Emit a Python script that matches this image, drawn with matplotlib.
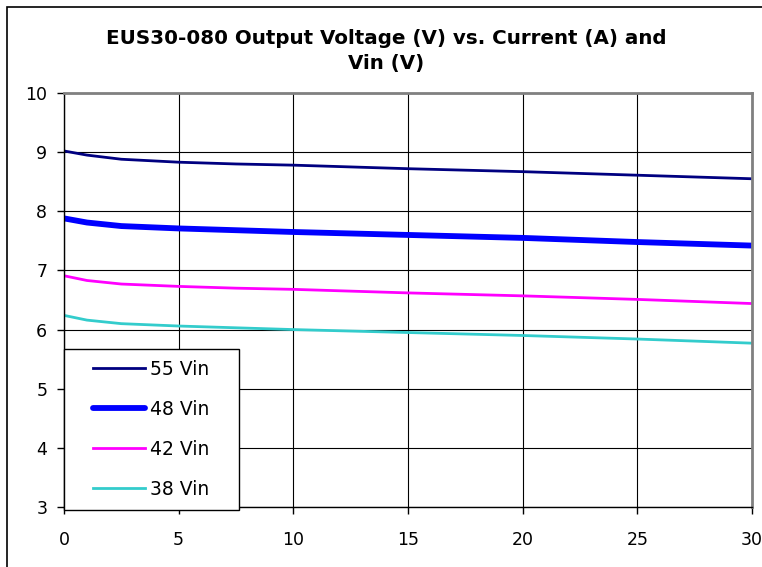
import matplotlib
matplotlib.use("Agg")
import matplotlib.pyplot as plt
from matplotlib.patches import Rectangle

# Output current (A)
current_a = [0, 1, 2.5, 5, 7.5, 10, 15, 20, 25, 30]

# Output voltage (V) per input voltage
vout_55 = [9.02, 8.95, 8.88, 8.83, 8.80, 8.78, 8.72, 8.67, 8.61, 8.55]
vout_48 = [7.88, 7.81, 7.75, 7.71, 7.68, 7.65, 7.60, 7.55, 7.48, 7.42]
vout_42 = [6.91, 6.83, 6.77, 6.73, 6.70, 6.68, 6.62, 6.57, 6.51, 6.44]
vout_38 = [6.24, 6.16, 6.10, 6.06, 6.03, 6.00, 5.95, 5.90, 5.84, 5.77]

x_ticks = [0, 5, 10, 15, 20, 25, 30]
y_ticks = [3, 4, 5, 6, 7, 8, 9, 10]

W, H = 762, 567
fig = plt.figure(figsize=(W / 100, H / 100), dpi=100)
ax_l, ax_r, ax_t, ax_b = 64, 752, 93, 507
ax = fig.add_axes([ax_l / W, 1 - ax_b / H, (ax_r - ax_l) / W, (ax_b - ax_t) / H])

# chart border (cropped on right and bottom like the original)
fig.patches.append(Rectangle((7 / W, -0.05), 1.2, 1 - 7 / H + 0.05,
                             transform=fig.transFigure, fill=False,
                             edgecolor="black", linewidth=1.2))

ax.plot(current_a, vout_55, color="#000080", linewidth=2.0, label="55 Vin")
ax.plot(current_a, vout_48, color="#0000FF", linewidth=4.2,
        solid_capstyle="round", label="48 Vin")
ax.plot(current_a, vout_42, color="#FF00FF", linewidth=2.0, label="42 Vin")
ax.plot(current_a, vout_38, color="#33CCCC", linewidth=2.0, label="38 Vin")

ax.set_xlim(0, 30)
ax.set_ylim(3, 10)
ax.set_xticks(x_ticks)
ax.set_yticks(y_ticks)
ax.tick_params(direction="out", length=5, width=1, labelsize=12.5)
ax.tick_params(axis="x", pad=12)
ax.tick_params(axis="y", pad=7)
ax.grid(True, color="black", linewidth=0.8)
ax.set_axisbelow(True)

for side in ["left", "bottom"]:
    ax.spines[side].set_color("black")
    ax.spines[side].set_linewidth(1.0)
for side in ["top", "right"]:
    ax.spines[side].set_color("#808080")
    ax.spines[side].set_linewidth(2.0)

fig.text(386 / W, 1 - 38 / H, "EUS30-080 Output Voltage (V) vs. Current (A) and",
         ha="center", va="center", fontsize=14.3, fontweight="bold")
fig.text(386 / W, 1 - 64 / H, "Vin (V)",
         ha="center", va="center", fontsize=14.3, fontweight="bold")


def to_ax(px, py):
    return (px - ax_l) / (ax_r - ax_l), (ax_b - py) / (ax_b - ax_t)


# legend box (white, black edge) in the lower left corner
lx0, ly0 = to_ax(64, 510)
lx1, ly1 = to_ax(239, 349)
ax.add_patch(Rectangle((lx0, ly0), lx1 - lx0, ly1 - ly0, transform=ax.transAxes,
                       facecolor="white", edgecolor="black", linewidth=1.0,
                       zorder=4, clip_on=False))

leg = ax.legend(loc="center left", bbox_to_anchor=to_ax(93, 429.5),
                fontsize=13.5, frameon=False, borderpad=0, borderaxespad=0,
                labelspacing=1.12, handlelength=2.77, handletextpad=0.27)
leg.set_zorder(5)

fig.savefig("out.png", dpi=100)
